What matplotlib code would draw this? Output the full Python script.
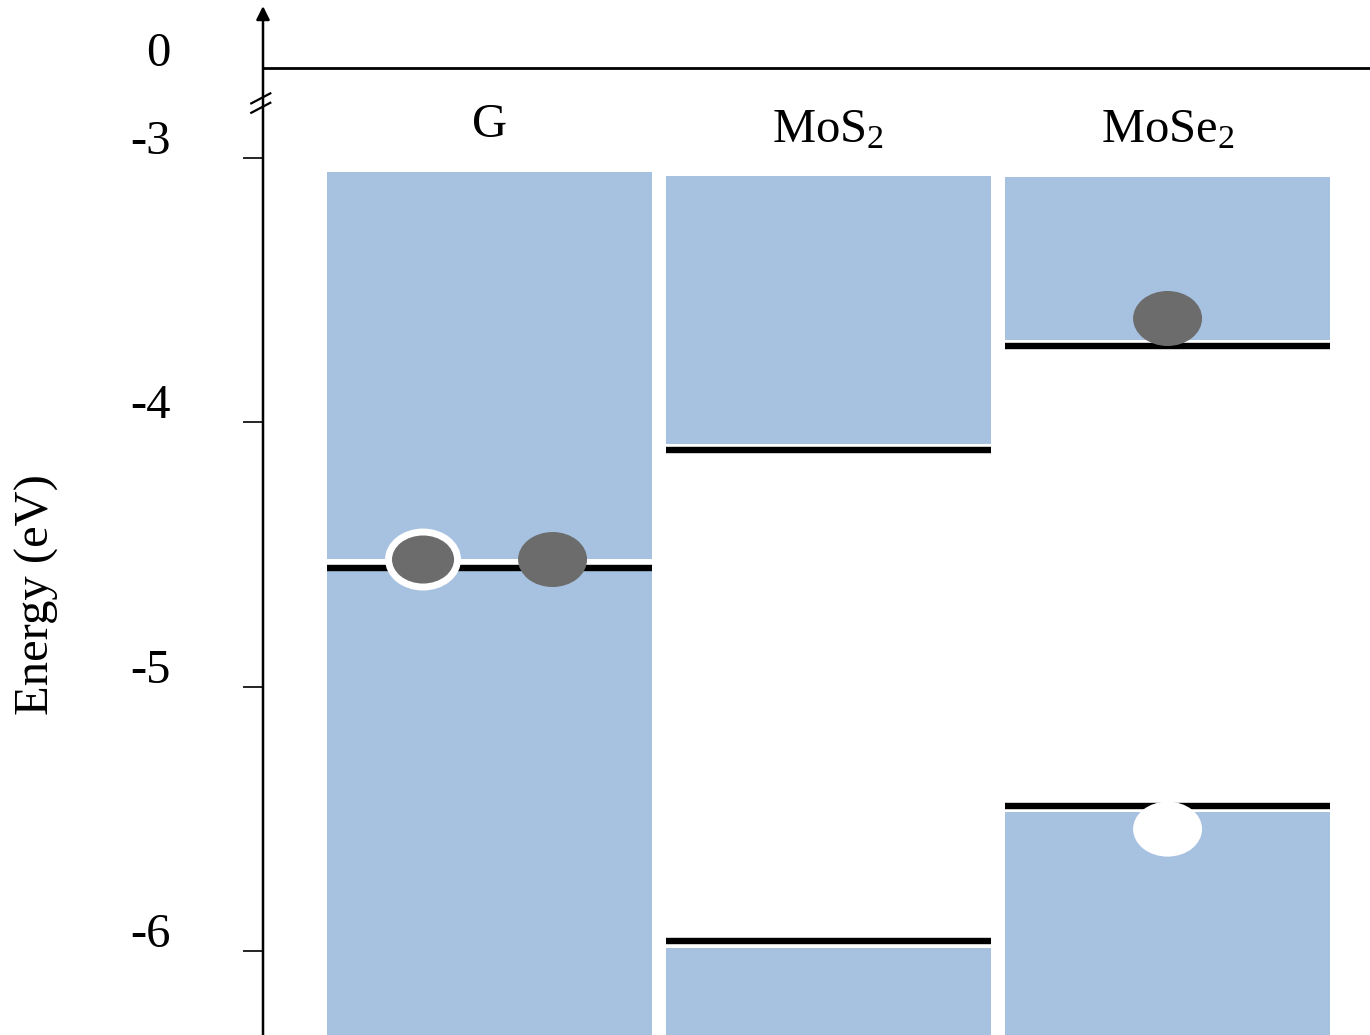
import numpy as np
import matplotlib
matplotlib.use("Agg")
import matplotlib.pyplot as plt
from matplotlib.patches import Rectangle, Ellipse
from matplotlib.transforms import ScaledTranslation

plt.rcParams["font.family"] = ["Liberation Serif", "DejaVu Serif"]
plt.rcParams["mathtext.default"] = "regular"

# band diagram data (eV)
materials = ["G", "MoS$_2$", "MoSe$_2$"]
label_y = [-2.921, -2.94, -2.94]
band_top = [-3.053, -3.068, -3.072]      # upper edge of drawn conduction region
fermi_G = -4.55                          # graphene Dirac/Fermi level
cbm = [None, -4.105, -3.711]             # conduction band minimum
vbm = [None, -5.963, -5.452]             # valence band maximum
yticks = [-6, -5, -4, -3]
ytick_labels = ["-6", "-5", "-4", "-3"]

# carriers: (column x, energy, kind)
carrier_x = [-0.196, 0.186, 2.0, 2.0]
carrier_y = [-4.519, -4.519, -3.607, -5.539]
carrier_kind = ["hole_g", "electron", "electron", "hole"]

BLUE = "#a7c1e0"
GREY = "#6c6c6c"
px_per_ev = 264.3
y_bottom = -6.318
y_top = -2.402
zero_pos = -2.6595        # where "0" sits above the axis break
break_pos = -2.792
arrow_tip = -2.425

fig = plt.figure(figsize=(13.7, 10.35), dpi=100)
ax = fig.add_axes([263 / 1370, 0, 1 - 263 / 1370, 1])
ax.set_xlim(-0.668, 2.597)
ax.set_ylim(y_bottom, y_top)
for s in ax.spines.values():
    s.set_visible(False)

width = 0.959
gap = 0.024
for i, name in enumerate(materials):
    left = i - width / 2
    if cbm[i] is None:
        # metal: filled up to the Fermi level and above
        ax.add_patch(Rectangle((left, y_bottom - 1), width, fermi_G - 0.012 - (y_bottom - 1),
                               color=BLUE, lw=0))
        ax.add_patch(Rectangle((left, fermi_G + 0.034), width, band_top[i] - fermi_G - 0.034,
                               color=BLUE, lw=0))
        ax.plot([left, left + width], [fermi_G, fermi_G], color="black", lw=4.6,
                solid_capstyle="butt")
    else:
        ax.add_patch(Rectangle((left, cbm[i] + gap), width, band_top[i] - cbm[i] - gap,
                               color=BLUE, lw=0))
        ax.add_patch(Rectangle((left, y_bottom - 1), width, vbm[i] - gap - (y_bottom - 1),
                               color=BLUE, lw=0))
        for e in (cbm[i], vbm[i]):
            ax.plot([left, left + width], [e, e], color="black", lw=4.6,
                    solid_capstyle="butt")
    ax.text(i, label_y[i], name, ha="center", va="baseline", fontsize=35)

ew, eh = 69 / 339, 55 / px_per_ev
for x, y, k in zip(carrier_x, carrier_y, carrier_kind):
    if k == "electron":
        ax.add_patch(Ellipse((x, y), ew, eh, facecolor=GREY, edgecolor="none", zorder=5))
    elif k == "hole_g":
        ax.add_patch(Ellipse((x, y), ew, eh, facecolor=GREY, edgecolor="white", lw=5, zorder=5))
    else:
        ax.add_patch(Ellipse((x, y), ew, eh, facecolor="white", edgecolor="none", zorder=5))

# y axis with arrow
yax = ax.get_yaxis_transform()
ax.annotate("", xy=(0, arrow_tip), xytext=(0, y_bottom), xycoords=yax, textcoords=yax,
            arrowprops=dict(arrowstyle="-|>", lw=1.8, color="black", mutation_scale=20,
                            shrinkA=0, shrinkB=0), annotation_clip=False)
ax.axhline(zero_pos, color="black", lw=2)

# break marks
bx = 19 / 1107
for dy in (-4.7, 4.7):
    yc = break_pos + dy / px_per_ev
    ax.plot([-bx / 2 - 0.002, bx / 2 - 0.002], [yc - 5 / px_per_ev, yc + 5 / px_per_ev],
            transform=yax, color="black", lw=1.6, clip_on=False)

ax.set_yticks(yticks)
ax.set_yticklabels(ytick_labels, fontsize=35)
ax.tick_params(axis="y", direction="out", length=14.4, width=1.2, pad=52)
ax.set_xticks([])
shift = ScaledTranslation(0, 21 / 100, fig.dpi_scale_trans)
for lab in ax.get_yticklabels():
    lab.set_transform(lab.get_transform() + shift)
ax.text(0, zero_pos, "0", fontsize=35, ha="right", va="center_baseline",
        transform=yax + ScaledTranslation(-92 / 100, 19 / 100, fig.dpi_scale_trans))

fig.text(37 / 1370, 1 - 595 / 1035, "Energy (eV)", rotation=90, ha="center", va="center",
         fontsize=35)

fig.savefig("out.png", dpi=100)
